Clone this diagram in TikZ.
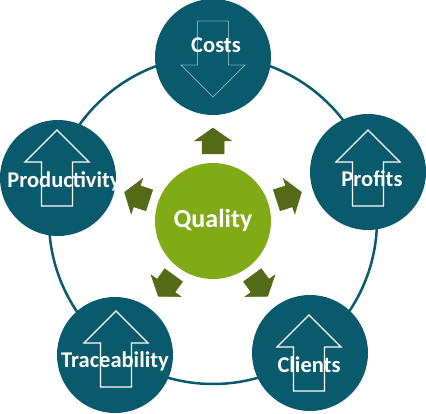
\documentclass[tikz,border=0pt]{standalone}
\usepackage{fontspec}
\setmainfont{Carlito}
\definecolor{tealc}{RGB}{8,90,108}
\definecolor{qgreen}{RGB}{128,170,22}
\definecolor{agreen}{RGB}{84,106,22}
\definecolor{faint}{RGB}{120,170,185}

\begin{document}
\begin{tikzpicture}[x=1pt, y=1pt,
        sat/.style={circle, fill=tealc, minimum size=116pt, inner sep=0pt},
        qual/.style={circle, fill=qgreen, minimum size=116pt, inner sep=0pt},
        lbl/.style={anchor=base, text=white, font=\fontsize{22.5}{22.5}\selectfont\bfseries, inner sep=0pt},
        uparr/.style={draw=white, line width=1.3pt, line join=miter},
        smallarr/.style={fill=agreen, draw=agreen, line width=0.5pt}]
        \useasboundingbox (0,0) rectangle (426,-414);

        % the big ring through the five circles
        \draw[tealc, line width=2.5pt] (213,-220) circle [radius=164];

        % the five outer circles
        \node[sat] (costs) at (213,-57) {};
        \node[sat] (productivity) at (58,-178) {};
        \node[sat] (profits) at (368,-172) {};
        \node[sat] (traceability) at (115,-355) {};
        \node[sat] (clients) at (310,-353) {};

        % the circle in the middle
        \node[qual] (quality) at (213,-221) {};

        % the small green arrows round the middle
        \foreach \a in {90,162,18,234,306}
            \draw[smallarr, shift={(quality.center)}, rotate=\a]
                (67,-11) -- (80,-11) -- (80,-18.5) -- (93,0) -- (80,18.5) -- (80,11) -- (67,11) -- cycle;

        % the arrow pointing down in Costs
        \draw[draw=faint, line width=0.8pt] (213,-97) -- ++(32,32) -- ++(-16.5,0) -- ++(0,44)
            -- ++(-31,0) -- ++(0,-44) -- ++(-16.5,0) -- cycle;
        % the arrows pointing up in the other circles
        \foreach \x/\y in {57/130, 368/130, 116/311, 309/315}
            \draw[uparr] (\x,-\y) -- ++(32,-32) -- ++(-16.5,0) -- ++(0,-44)
                -- ++(-31,0) -- ++(0,44) -- ++(-16.5,0) -- cycle;

        % the labels
        \node[lbl] (costs-t) at (216,-53) {Costs};
        \node[lbl] (productivity-t) at (64,-188) {Productivity};
        \node[lbl] (profits-t) at (372,-187) {Profits};
        \node[lbl] (traceability-t) at (115,-367) {Traceability};
        \node[lbl] (clients-t) at (309,-372) {Clients};
        \node[lbl, font=\fontsize{26}{26}\selectfont\bfseries] (quality-t) at (213,-228) {Quality};
    \end{tikzpicture}
\end{document}
